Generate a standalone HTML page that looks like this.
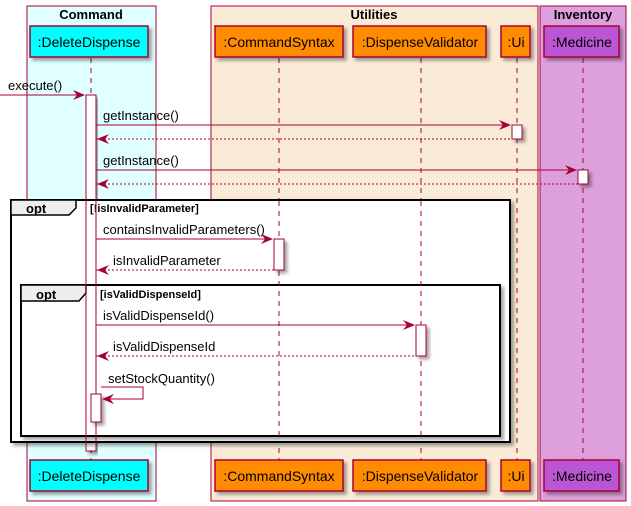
<!DOCTYPE html>
<html><head><style>body{margin:0}svg{display:block}text{font-family:"Liberation Sans",sans-serif}</style></head><body>
<svg width="631" height="506" viewBox="0 0 631 506" xmlns="http://www.w3.org/2000/svg">
<defs>
<filter id="sh" x="-10%" y="-10%" width="130%" height="130%"><feDropShadow dx="3" dy="3" stdDeviation="1.5" flood-color="#000" flood-opacity="0.35"/></filter>
</defs>
<rect width="631" height="506" fill="#fff"/>
<!-- boxes -->
<rect x="27" y="6" width="129" height="495" fill="#E0FFFF" stroke="#A80036" stroke-width="1"/>
<rect x="211" y="6" width="327" height="495" fill="#FAEBD7" stroke="#A80036" stroke-width="1"/>
<rect x="540" y="6" width="86" height="495" fill="#DDA0DD" stroke="#A80036" stroke-width="1"/>
<g font-weight="bold" font-size="13" text-anchor="middle">
<text x="91" y="19">Command</text>
<text x="374" y="19">Utilities</text>
<text x="583" y="19">Inventory</text>
</g>
<!-- lifelines -->
<g stroke="#A80036" stroke-dasharray="5,5" stroke-width="1">
<line x1="91" y1="58" x2="91" y2="460"/>
<line x1="279" y1="58" x2="279" y2="460"/>
<line x1="421" y1="58" x2="421" y2="460"/>
<line x1="517" y1="58" x2="517" y2="460"/>
<line x1="583" y1="58" x2="583" y2="460"/>
</g>
<!-- participants -->
<g stroke="#A80036" stroke-width="1.5" filter="url(#sh)">
<rect x="30" y="26" width="118" height="31" fill="#00FFFF"/>
<rect x="215" y="26" width="128" height="31" fill="#FF8C00"/>
<rect x="353" y="26" width="133" height="31" fill="#FF8C00"/>
<rect x="501" y="26" width="29" height="31" fill="#FF8C00"/>
<rect x="544" y="26" width="75" height="31" fill="#BA55D3"/>
<rect x="30" y="460" width="118" height="31" fill="#00FFFF"/>
<rect x="215" y="460" width="128" height="31" fill="#FF8C00"/>
<rect x="353" y="460" width="133" height="31" fill="#FF8C00"/>
<rect x="501" y="460" width="29" height="31" fill="#FF8C00"/>
<rect x="544" y="460" width="75" height="31" fill="#BA55D3"/>
</g>
<g font-size="14" text-anchor="middle">
<text x="89" y="47">:DeleteDispense</text>
<text x="279" y="47">:CommandSyntax</text>
<text x="420" y="47">:DispenseValidator</text>
<text x="516" y="47">:Ui</text>
<text x="582" y="47">:Medicine</text>
<text x="89" y="481">:DeleteDispense</text>
<text x="279" y="481">:CommandSyntax</text>
<text x="420" y="481">:DispenseValidator</text>
<text x="516" y="481">:Ui</text>
<text x="582" y="481">:Medicine</text>
</g>
<!-- main activation fill -->
<rect x="86" y="95" width="10" height="356" fill="#fff" stroke="#A80036" filter="url(#sh)"/>
<!-- frames -->
<g stroke="#000" stroke-width="2" fill="#fff" filter="url(#sh)">
<rect x="11" y="200" width="499" height="242"/>
</g>
<path d="M11 200 H76 V208 L69 215 H11 Z" fill="#EEEEEE" stroke="#000" stroke-width="1.5"/>
<text x="26" y="213" font-size="13" font-weight="bold">opt</text>
<text x="90" y="212" font-size="11" font-weight="bold">[!isInvalidParameter]</text>
<g stroke="#000" stroke-width="2" fill="#fff" filter="url(#sh)">
<rect x="21" y="285" width="479" height="151"/>
</g>
<path d="M21 285 H86 V293 L79 301 H21 Z" fill="#EEEEEE" stroke="#000" stroke-width="1.5"/>
<text x="36" y="299" font-size="13" font-weight="bold">opt</text>
<text x="100" y="298" font-size="11" font-weight="bold">[isValidDispenseId]</text>
<!-- lifelines inside frames -->
<g stroke="#A80036" stroke-dasharray="5,5" stroke-width="1">
<line x1="279" y1="201" x2="279" y2="441"/>
<line x1="421" y1="201" x2="421" y2="441"/>
</g>
<!-- activation outline over frames -->
<rect x="86" y="95" width="10" height="356" fill="none" stroke="#A80036"/>
<g fill="#fff" stroke="#A80036" filter="url(#sh)">
<rect x="512" y="125" width="10" height="14"/>
<rect x="578" y="170" width="10" height="14"/>
<rect x="274" y="239" width="10" height="31"/>
<rect x="416" y="325" width="10" height="31"/>
<rect x="91" y="394" width="10" height="28"/>
</g>
<!-- messages -->
<g stroke="#A80036" stroke-width="1" fill="none">
<line x1="0" y1="95" x2="84" y2="95"/>
<line x1="96" y1="125" x2="510" y2="125"/>
<line x1="96" y1="139" x2="512" y2="139" stroke-dasharray="2,2"/>
<line x1="96" y1="170" x2="576" y2="170"/>
<line x1="96" y1="184" x2="578" y2="184" stroke-dasharray="2,2"/>
<line x1="96" y1="239" x2="272" y2="239"/>
<line x1="96" y1="270" x2="274" y2="270" stroke-dasharray="2,2"/>
<line x1="96" y1="325" x2="414" y2="325"/>
<line x1="96" y1="356" x2="416" y2="356" stroke-dasharray="2,2"/>
<polyline points="101,387 143,387 143,399 103,399"/>
</g>
<g fill="#A80036">
<path d="M85 95 L73 90 L77 95 L73 100 Z"/>
<path d="M511 125 L499 120 L503 125 L499 130 Z"/>
<path d="M97 139 L109 134 L105 139 L109 144 Z"/>
<path d="M577 170 L565 165 L569 170 L565 175 Z"/>
<path d="M97 184 L109 179 L105 184 L109 189 Z"/>
<path d="M273 239 L261 234 L265 239 L261 244 Z"/>
<path d="M97 270 L109 265 L105 270 L109 275 Z"/>
<path d="M415 325 L403 320 L407 325 L403 330 Z"/>
<path d="M97 356 L109 351 L105 356 L109 361 Z"/>
<path d="M102 399 L114 394 L110 399 L114 404 Z"/>
</g>
<g font-size="13">
<text x="8" y="90">execute()</text>
<text x="103" y="120">getInstance()</text>
<text x="103" y="165">getInstance()</text>
<text x="103" y="234">containsInvalidParameters()</text>
<text x="113" y="265">isInvalidParameter</text>
<text x="103" y="320">isValidDispenseId()</text>
<text x="113" y="351">isValidDispenseId</text>
<text x="108" y="383">setStockQuantity()</text>
</g>
</svg>
</body></html>
